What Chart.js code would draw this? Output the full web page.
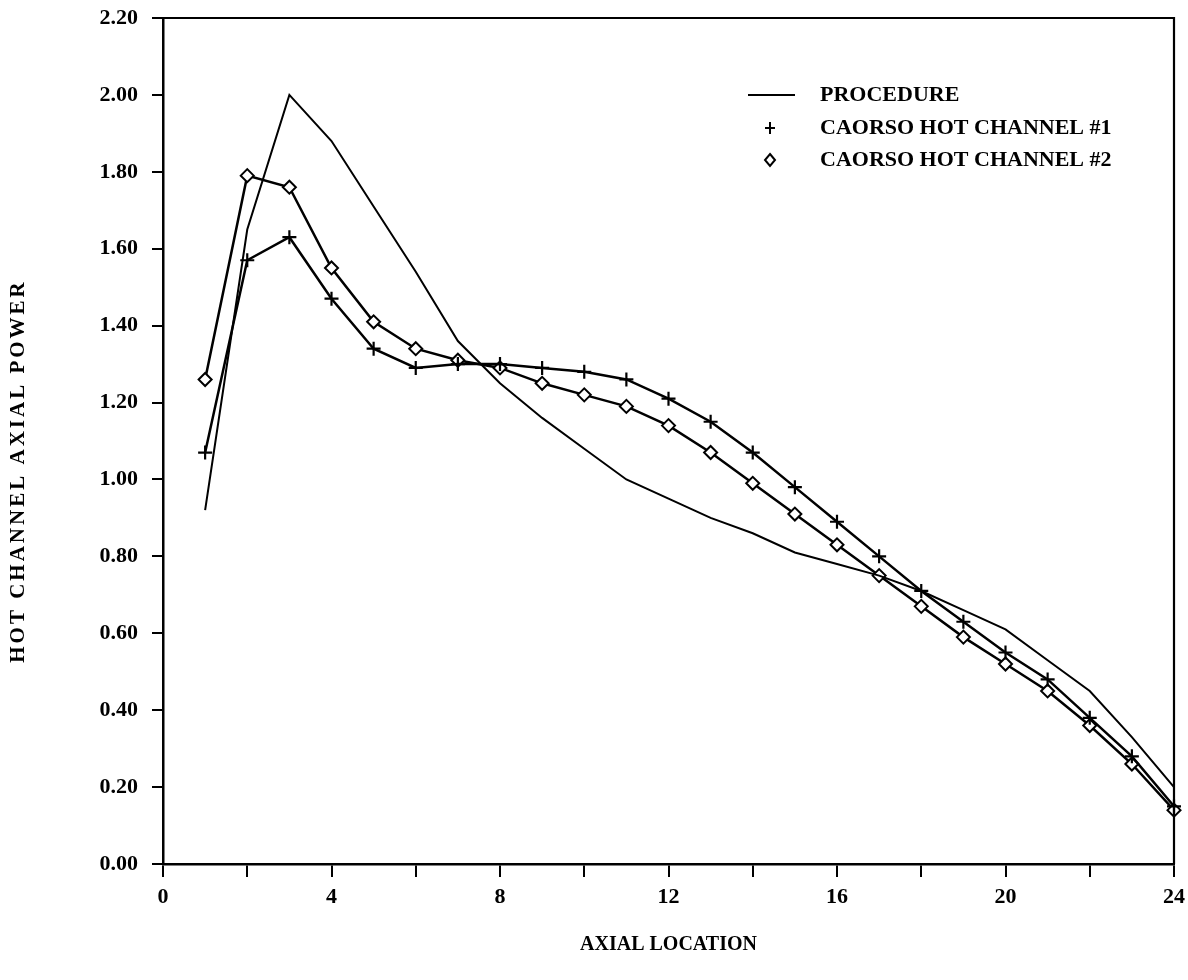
<!DOCTYPE html>
<html lang="en">
<head>
    <meta charset="UTF-8">
    <title>Hot Channel Axial Power</title>
    <script src="https://cdn.jsdelivr.net/npm/chart.js"></script>
    <style>
        body { margin: 0; background: #fff; }
        #wrap { width: 1188px; height: 980px; position: relative; }
    </style>
</head>
<body>

<div id="wrap"><canvas id="axialChart"></canvas></div>

<script>
    // Axial node positions (x) and the three power shapes (y)
    const axialLocation = [1, 2, 3, 4, 5, 6, 7, 8, 9, 10, 11, 12, 13, 14, 15, 16, 17, 18, 19, 20, 21, 22, 23, 24];
    const procedure   = [0.92, 1.65, 2.00, 1.88, 1.71, 1.54, 1.36, 1.25, 1.16, 1.08, 1.00, 0.95, 0.90, 0.86, 0.81, 0.78, 0.75, 0.71, 0.66, 0.61, 0.53, 0.45, 0.33, 0.20];
    const hotChannel1 = [1.07, 1.57, 1.63, 1.47, 1.34, 1.29, 1.30, 1.30, 1.29, 1.28, 1.26, 1.21, 1.15, 1.07, 0.98, 0.89, 0.80, 0.71, 0.63, 0.55, 0.48, 0.38, 0.28, 0.15];
    const hotChannel2 = [1.26, 1.79, 1.76, 1.55, 1.41, 1.34, 1.31, 1.29, 1.25, 1.22, 1.19, 1.14, 1.07, 0.99, 0.91, 0.83, 0.75, 0.67, 0.59, 0.52, 0.45, 0.36, 0.26, 0.14];
    const seriesNames = ['PROCEDURE', 'CAORSO HOT CHANNEL #1', 'CAORSO HOT CHANNEL #2'];

    const toPoints = ys => ys.map((y, i) => ({ x: axialLocation[i], y: y }));
    const tickFont = { family: '"Liberation Serif", serif', size: 22, weight: 'bold' };

    // frame on top/right, the key inside the plot, and the letter-spaced y title
    const extrasPlugin = {
        id: 'extras',
        afterDraw(chart) {
            const { ctx, chartArea: a } = chart;
            ctx.save();
            ctx.strokeStyle = '#000';
            ctx.fillStyle = '#000';
            ctx.lineWidth = 2.2;
            ctx.beginPath();
            ctx.moveTo(a.left - 11, a.top);
            ctx.lineTo(a.right, a.top);
            ctx.lineTo(a.right, a.bottom);
            ctx.stroke();

            // key
            const keyX = a.left + 607;
            const textX = a.left + 657;
            const rows = [a.top + 77, a.top + 110, a.top + 142];
            ctx.lineWidth = 2.2;
            ctx.beginPath();
            ctx.moveTo(keyX - 22, rows[0]);
            ctx.lineTo(keyX + 25, rows[0]);
            ctx.stroke();

            ctx.lineWidth = 2;
            ctx.beginPath();
            ctx.moveTo(keyX - 5, rows[1]);
            ctx.lineTo(keyX + 5, rows[1]);
            ctx.moveTo(keyX, rows[1] - 6);
            ctx.lineTo(keyX, rows[1] + 6);
            ctx.stroke();

            ctx.beginPath();
            ctx.moveTo(keyX, rows[2] - 6);
            ctx.lineTo(keyX + 5, rows[2]);
            ctx.lineTo(keyX, rows[2] + 6);
            ctx.lineTo(keyX - 5, rows[2]);
            ctx.closePath();
            ctx.stroke();

            ctx.font = 'bold 22px "Liberation Serif", serif';
            ctx.textBaseline = 'middle';
            ctx.textAlign = 'left';
            seriesNames.forEach((name, i) => ctx.fillText(name, textX, rows[i]));

            // y axis title
            ctx.translate(19, (a.top + a.bottom) / 2 + 30);
            ctx.rotate(-Math.PI / 2);
            ctx.font = 'bold 21px "Liberation Serif", serif';
            ctx.letterSpacing = '3px';
            ctx.textAlign = 'center';
            ctx.fillText('HOT CHANNEL AXIAL POWER', 0, 0);
            ctx.restore();
        }
    };

    const ctx = document.getElementById('axialChart').getContext('2d');
    new Chart(ctx, {
        type: 'line',
        data: {
            datasets: [
                {
                    label: seriesNames[0],
                    data: toPoints(procedure),
                    borderColor: '#000',
                    borderWidth: 2,
                    pointRadius: 0,
                    tension: 0,
                    clip: false
                },
                {
                    label: seriesNames[1],
                    data: toPoints(hotChannel1),
                    borderColor: '#000',
                    borderWidth: 2.5,
                    pointStyle: 'cross',
                    pointRadius: 7,
                    pointBorderWidth: 2.2,
                    pointBorderColor: '#000',
                    tension: 0,
                    clip: false
                },
                {
                    label: seriesNames[2],
                    data: toPoints(hotChannel2),
                    borderColor: '#000',
                    borderWidth: 2.5,
                    pointStyle: 'rectRot',
                    pointRadius: 6.5,
                    pointBorderWidth: 2,
                    pointBorderColor: '#000',
                    pointBackgroundColor: '#fff',
                    tension: 0,
                    clip: false
                }
            ]
        },
        options: {
            responsive: true,
            maintainAspectRatio: false,
            animation: false,
            layout: { padding: { top: 18, right: 14, left: 0, bottom: 0 } },
            plugins: {
                legend: { display: false },
                tooltip: { enabled: false }
            },
            scales: {
                x: {
                    type: 'linear',
                    min: 0,
                    max: 24,
                    afterFit: scale => {
                        scale.height = 116;
                        scale.paddingLeft = 0;
                        scale.paddingRight = 0;
                    },
                    ticks: {
                        stepSize: 2,
                        autoSkip: false,
                        maxRotation: 0,
                        color: '#000',
                        font: tickFont,
                        padding: 7,
                        callback: v => (v % 4 === 0 ? String(v) : '')
                    },
                    grid: {
                        drawOnChartArea: false,
                        drawTicks: true,
                        tickLength: 13,
                        color: '#000',
                        lineWidth: 2
                    },
                    border: { color: '#000', width: 2.5 },
                    title: {
                        display: true,
                        text: 'AXIAL LOCATION',
                        color: '#000',
                        font: { family: '"Liberation Serif", serif', size: 20, weight: 'bold' },
                        padding: { top: 0, bottom: 23 }
                    }
                },
                y: {
                    min: 0,
                    max: 2.2,
                    afterFit: scale => {
                        scale.width = 163;
                        scale.paddingTop = 0;
                        scale.paddingBottom = 0;
                    },
                    ticks: {
                        stepSize: 0.2,
                        color: '#000',
                        font: tickFont,
                        padding: 14,
                        callback: v => Number(v).toFixed(2)
                    },
                    grid: {
                        drawOnChartArea: false,
                        drawTicks: true,
                        tickLength: 11,
                        color: '#000',
                        lineWidth: 2
                    },
                    border: { color: '#000', width: 2.5 }
                }
            }
        },
        plugins: [extrasPlugin]
    });
</script>

</body>
</html>
